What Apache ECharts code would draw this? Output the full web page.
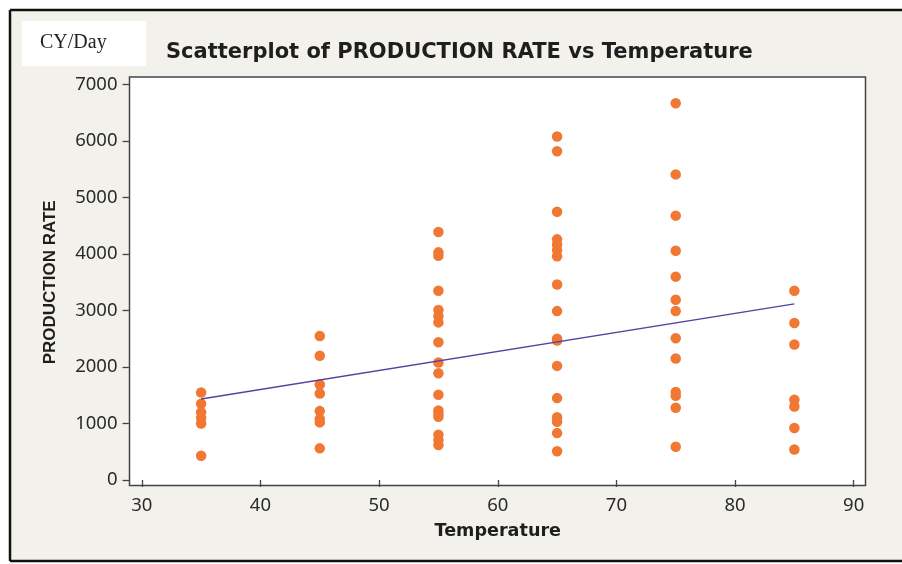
<!DOCTYPE html>
<html>
<head>
<meta charset="utf-8">
<script src="https://cdn.jsdelivr.net/npm/echarts@6/dist/echarts.min.js"></script>
<style>
html,body{margin:0;padding:0;background:#ffffff;overflow:hidden;}
#chart{width:902px;height:564px;}
</style>
</head>
<body>
<div id="chart"></div>
<script>
// Temperature groups and production rate readings (CY/Day)
const temp35 = [1550, 1350, 1200, 1100, 1000, 430];
const temp45 = [2550, 2200, 1690, 1530, 1220, 1080, 1020, 560];
const temp55 = [4390, 4030, 3970, 3350, 3010, 2900, 2790, 2440, 2080, 1890, 1510, 1230, 1170, 1120, 800, 710, 620];
const temp65 = [6080, 5820, 4750, 4260, 4170, 4070, 3960, 3460, 2990, 2500, 2470, 2020, 1450, 1110, 1030, 830, 510];
const temp75 = [6670, 5410, 4680, 4060, 3600, 3190, 2990, 2510, 2150, 1560, 1490, 1280, 590];
const temp85 = [3350, 2780, 2400, 1420, 1300, 920, 540];
const groupTemps = [35, 45, 55, 65, 75, 85];
const groupValues = [temp35, temp45, temp55, temp65, temp75, temp85];
// fitted line end points
const fitX = [35, 85];
const fitY = [1434, 3117];
const xTicks = [30, 40, 50, 60, 70, 80, 90];
const yTicks = [0, 1000, 2000, 3000, 4000, 5000, 6000, 7000];

const points = [];
groupTemps.forEach((t, i) => groupValues[i].forEach(v => points.push([t, v])));
const fitLine = fitX.map((x, i) => [x, fitY[i]]);

const chart = echarts.init(document.getElementById('chart'), null, {renderer: 'canvas'});
const labelFont = 'Noto Sans';
const edge = {stroke: '#111111', lineWidth: 2.5};
chart.setOption({
  animation: false,
  backgroundColor: '#ffffff',
  title: {
    text: 'Scatterplot of PRODUCTION RATE vs Temperature',
    left: 161, top: 37,
    textStyle: {fontFamily: 'DejaVu Sans', fontWeight: 'bold', fontSize: 21, color: '#1e1e1e'}
  },
  graphic: [
    {type: 'rect', z: -10, shape: {x: 10, y: 10, width: 892, height: 551},
     style: {fill: '#f2f1ec', stroke: null}},
    {type: 'line', z: -7, shape: {x1: 10, y1: 10, x2: 902, y2: 10}, style: edge},
    {type: 'line', z: -7, shape: {x1: 10, y1: 10, x2: 10, y2: 561}, style: edge},
    {type: 'line', z: -7, shape: {x1: 10, y1: 561, x2: 902, y2: 561}, style: edge},
    {type: 'rect', z: -9, shape: {x: 22, y: 21, width: 124, height: 45},
     style: {fill: '#ffffff', stroke: null}},
    {type: 'text', z: -8, left: 40, top: 33,
     style: {text: 'CY/Day', font: '20px "Liberation Serif"', fill: '#222222'}},
    {type: 'rect', z: -9, shape: {x: 129.5, y: 77, width: 736, height: 408.5},
     style: {fill: '#ffffff', stroke: '#444444', lineWidth: 1.5}}
  ],
  grid: {left: 141.8, right: 48.3, top: 84.6, bottom: 84, containLabel: false},
  xAxis: {
    type: 'value', min: xTicks[0], max: xTicks[xTicks.length - 1], interval: 10,
    offset: 5.5,
    name: 'Temperature', nameLocation: 'middle', nameGap: 37,
    nameTextStyle: {fontFamily: 'DejaVu Sans', fontWeight: 'bold', fontSize: 17.6, color: '#1e1e1e'},
    axisLine: {show: false},
    axisTick: {show: true, length: 7, lineStyle: {color: '#444444', width: 1.3}},
    axisLabel: {margin: 11, fontFamily: labelFont, fontSize: 18.5, color: '#2a2a2a',
      formatter: v => String(v)},
    splitLine: {show: false}
  },
  yAxis: {
    type: 'value', min: yTicks[0], max: yTicks[yTicks.length - 1], interval: 1000,
    offset: 12.3,
    name: 'PRODUCTION RATE', nameLocation: 'middle', nameGap: 71, nameRotate: 90,
    nameTextStyle: {fontFamily: 'Liberation Sans', fontWeight: 'bold', fontSize: 17, color: '#1e1e1e'},
    axisLine: {show: false},
    axisTick: {show: true, length: 7, lineStyle: {color: '#444444', width: 1.3}},
    axisLabel: {margin: 12, fontFamily: labelFont, fontSize: 18.5, color: '#2a2a2a',
      formatter: v => String(v)},
    splitLine: {show: false}
  },
  series: [
    {type: 'scatter', data: points, symbol: 'circle', symbolSize: 10.5,
     itemStyle: {color: '#f07833', opacity: 1}, clip: false, z: 3},
    {type: 'line', data: fitLine, showSymbol: false, symbol: 'none',
     lineStyle: {color: '#5a3fa0', width: 1.3}, z: 4}
  ]
});
</script>
</body>
</html>
